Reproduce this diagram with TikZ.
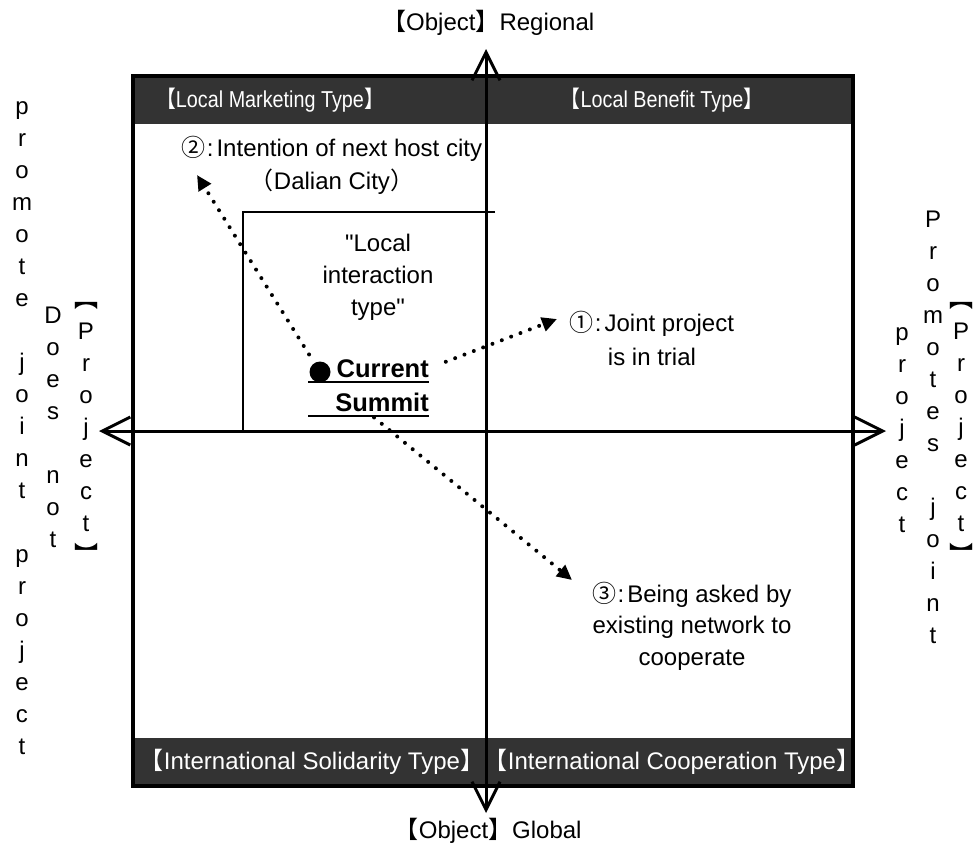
\documentclass[tikz,border=0pt]{standalone}
\usepackage{graphicx}
\usepackage{fontspec}
\setmainfont{Liberation Sans}[Ligatures=TeXOff]
\newfontfamily\cjk{Noto Sans CJK JP}
\usetikzlibrary{arrows.meta}
\definecolor{bandgray}{HTML}{333333}
% lenticular brackets, trimmed to their ink
\newcommand{\lbr}{\makebox[.6em][r]{\cjk 【}}
\newcommand{\rbr}{\makebox[.6em][l]{\cjk 】}}
\newcommand{\lpar}{\makebox[.45em][r]{\cjk （}}
\newcommand{\rpar}{\makebox[.45em][l]{\cjk ）}}
\newcommand{\vs}{\rule{0pt}{24pt}}
\newcommand{\circnum}[1]{{\cjk #1}\kern1pt:\kern3pt}
\newcommand{\narrow}[1]{\scalebox{0.86}[1]{#1}}
\tikzset{
  band/.style={fill=bandgray},
  head/.style={text=white, inner sep=0pt},
  body/.style={font=\fontsize{24}{32}\selectfont, inner sep=0pt},
  vcol/.style={body, align=center, anchor=north},
  note/.style={body, align=center, anchor=north},
  bold/.style={font=\bfseries\fontsize{25.5}{30}\selectfont, inner sep=0pt, anchor=base east},
  axis/.style={line width=3pt, {Straight Barb[length=28pt,width=28pt]}-{Straight Barb[length=28pt,width=28pt]}},
  dotarrow/.style={line width=4pt, line cap=round, dash pattern=on 0pt off 10pt, -{Triangle[length=15pt,width=14pt]}}
}
\begin{document}
\begin{tikzpicture}[x=1pt,y=-1pt]
\useasboundingbox (0,0) rectangle (974,854);

% type bands
\fill[band] (133,76) rectangle (853,124);
\fill[band] (133,738) rectangle (853,786);
\node[head, font=\fontsize{23}{28}\selectfont] (lmt) at (270,100) {\narrow{\lbr Local Marketing Type\rbr}};
\node[head, font=\fontsize{23}{28}\selectfont] (lbt) at (662,100) {\narrow{\lbr Local Benefit Type\rbr}};
\node[head, body] (ist) at (312,762) {\lbr International Solidarity Type\rbr};
\node[head, body] (ict) at (672,762) {\lbr International Cooperation Type\rbr};

% frame and local interaction zone
\draw[line width=3.5pt] (133,76) rectangle (853,786);
\draw[line width=2.2pt] (495,212) -- (243,212) -- (243,431);

% axes
\coordinate (ax-w) at (99,431);
\coordinate (ax-e) at (886,431);
\coordinate (ax-n) at (486,49);
\coordinate (ax-s) at (486,813);
\draw[axis] (ax-w) -- (ax-e);
\draw[axis] (ax-s) -- (ax-n);

\node[body, anchor=base] (regional) at (493,30) {\lbr Object{\cjk 】}Regional};
\node[body, anchor=base] (global) at (493,838) {\lbr Object{\cjk 】}Global};

% side captions, one letter per line
\node[vcol] (promote) at (22,90) {\vs p\\r\\o\\m\\o\\t\\e\\[32pt]j\\o\\i\\n\\t\\[32pt]p\\r\\o\\j\\e\\c\\t};
\node[vcol] (doesnot) at (53,299) {\vs D\\o\\e\\s\\[32pt]n\\o\\t};
\node[vcol] (projL) at (86,283) {\vs{\cjk ︻}\\P\\r\\o\\j\\e\\c\\t\\{\cjk ︼}};
\node[vcol] (project) at (902,316) {\vs p\\r\\o\\j\\e\\c\\t};
\node[vcol] (promotes) at (933,203) {\vs P\\r\\o\\m\\o\\t\\e\\s\\[32pt]j\\o\\i\\n\\t};
\node[vcol] (projR) at (961,283) {\vs{\cjk ︻}\\P\\r\\o\\j\\e\\c\\t\\{\cjk ︼}};

% notes
\node[note] (lit) at (378,227) {\vs"Local\\interaction\\type"};
\node[note, font=\fontsize{24}{33}\selectfont] (host) at (332,132) {\vs\circnum{②}Intention of next host city\\\lpar Dalian City\rpar};
\node[note, font=\fontsize{24}{34}\selectfont] (trial) at (652,307) {\vs\circnum{①}Joint project\\is in trial};
\node[note, font=\fontsize{24}{31.5}\selectfont] (asked) at (692,578) {\vs\circnum{③}Being asked by\\existing network to\\cooperate};

% current summit
\node[circle, fill, inner sep=0pt, minimum size=21pt] (sdot) at (320,372) {};
\node[bold] (cur) at (429,377) {Current};
\node[bold] (sum) at (429,411) {Summit};
\draw[line width=2pt] (308,382) -- (429,382);
\draw[line width=2pt] (308,416) -- (429,416);

% directions
\coordinate (tip1) at (557,319);
\coordinate (tip2) at (197,175);
\coordinate (tip3) at (572,580);
\draw[dotarrow, shorten <=10pt] (sdot) -- (tip2);
\draw[dotarrow, shorten <=18pt] (cur.east) -- (tip1);
\draw[dotarrow] ([xshift=-8pt,yshift=-6pt]sum.south) -- (tip3);
\end{tikzpicture}
\end{document}
